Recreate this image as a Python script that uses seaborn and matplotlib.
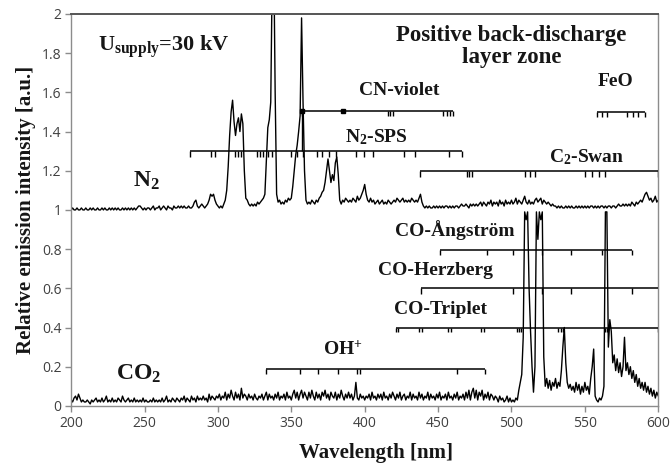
import numpy as np
import pandas as pd
import matplotlib
matplotlib.use("Agg")
import matplotlib.pyplot as plt
import seaborn as sns

# plot style
sns.set_style("ticks")
plt.rcParams["font.family"] = ["Open Sans", "DejaVu Sans"]
plt.rcParams["mathtext.fontset"] = "custom"
plt.rcParams["mathtext.rm"] = "Liberation Serif:bold"
plt.rcParams["mathtext.it"] = "Liberation Serif:bold"
plt.rcParams["mathtext.bf"] = "Liberation Serif:bold"

# wavelength grid of the spectra [nm]
wavelength = np.arange(200, 601, 1)

# N2 spectrum (relative, drawn shifted up by 1)
n2_intensity = [
    0.00, 0.01, 0.00, 0.00, 0.01, 0.00, 0.00, 0.01, 0.00, 0.00,
    0.01, 0.00, 0.00, 0.01, 0.00, 0.01, 0.00, 0.00, 0.01, 0.00,
    0.00, 0.01, 0.00, 0.01, 0.00, 0.00, 0.01, 0.00, 0.01, 0.00,
    0.01, 0.00, 0.01, 0.00, 0.00, 0.01, 0.00, 0.01, 0.00, 0.01,
    0.00, 0.01, 0.00, 0.01, 0.00, 0.01, 0.02, 0.02, 0.01, 0.00,
    0.01, 0.00, 0.01, 0.01, 0.00, 0.01, 0.02, 0.00, 0.01, 0.01,
    0.02, 0.00, 0.01, 0.02, 0.01, 0.00, 0.02, 0.01, 0.01, 0.00,
    0.02, 0.01, 0.01, 0.02, 0.01, 0.02, 0.01, 0.02, 0.01, 0.01,
    0.02, 0.01, 0.01, 0.02, 0.04, 0.05, 0.02, 0.01, 0.02, 0.03,
    0.02, 0.01, 0.02, 0.03, 0.05, 0.08, 0.07, 0.08, 0.05, 0.03,
    0.02, 0.01, 0.02, 0.01, 0.03, 0.05, 0.10, 0.22, 0.38, 0.50,
    0.56, 0.45, 0.38, 0.44, 0.47, 0.40, 0.49, 0.44, 0.20, 0.06,
    0.05, 0.03, 0.02, 0.03, 0.02, 0.03, 0.02, 0.04, 0.03, 0.04,
    0.05, 0.06, 0.08, 0.25, 0.42, 0.46, 0.55, 1.20, 1.35, 0.60,
    0.08, 0.04, 0.05, 0.03, 0.04, 0.03, 0.05, 0.04, 0.06, 0.05,
    0.06, 0.12, 0.20, 0.28, 0.33, 0.40, 0.48, 0.98, 0.55, 0.20,
    0.05, 0.03, 0.04, 0.03, 0.05, 0.04, 0.03, 0.05, 0.04, 0.06,
    0.07, 0.09, 0.10, 0.14, 0.20, 0.26, 0.20, 0.14, 0.18, 0.15,
    0.24, 0.27, 0.18, 0.05, 0.03, 0.05, 0.04, 0.06, 0.05, 0.04,
    0.05, 0.04, 0.06, 0.05, 0.04, 0.07, 0.05, 0.06, 0.08, 0.10,
    0.13, 0.08, 0.05, 0.04, 0.06, 0.04, 0.05, 0.03, 0.04, 0.05,
    0.03, 0.04, 0.05, 0.03, 0.04, 0.03, 0.05, 0.04, 0.03, 0.04,
    0.05, 0.04, 0.06, 0.05, 0.04, 0.05, 0.06, 0.04, 0.05, 0.04,
    0.05, 0.04, 0.06, 0.05, 0.04, 0.05, 0.04, 0.06, 0.08, 0.04,
    0.02, 0.01, 0.02, 0.01, 0.02, 0.01, 0.01, 0.02, 0.01, 0.02,
    0.01, 0.02, 0.01, 0.02, 0.01, 0.02, 0.02, 0.01, 0.02, 0.01,
    0.02, 0.01, 0.02, 0.02, 0.01, 0.02, 0.03, 0.02, 0.02, 0.03,
    0.02, 0.01, 0.03, 0.02, 0.03, 0.02, 0.03, 0.02, 0.03, 0.04,
    0.02, 0.04, 0.03, 0.02, 0.04, 0.03, 0.05, 0.02, 0.04, 0.03,
    0.04, 0.02, 0.05, 0.03, 0.04, 0.02, 0.05, 0.03, 0.04, 0.03,
    0.05, 0.03, 0.04, 0.06, 0.03, 0.05, 0.04, 0.03, 0.05, 0.07,
    0.04, 0.03, 0.05, 0.03, 0.04, 0.03, 0.05, 0.06, 0.04, 0.05,
    0.06, 0.03, 0.05, 0.04, 0.03, 0.04, 0.03, 0.02, 0.03, 0.02,
    0.02, 0.01, 0.02, 0.01, 0.02, 0.01, 0.01, 0.02, 0.01, 0.02,
    0.01, 0.02, 0.01, 0.01, 0.02, 0.01, 0.02, 0.01, 0.02, 0.01,
    0.02, 0.01, 0.02, 0.01, 0.02, 0.02, 0.01, 0.02, 0.01, 0.02,
    0.01, 0.02, 0.02, 0.01, 0.02, 0.01, 0.02, 0.02, 0.01, 0.02,
    0.02, 0.01, 0.02, 0.03, 0.02, 0.02, 0.03, 0.02, 0.03, 0.02,
    0.03, 0.02, 0.04, 0.03, 0.02, 0.04, 0.03, 0.04, 0.05, 0.04,
    0.06, 0.08, 0.09, 0.07, 0.05, 0.06, 0.04, 0.05, 0.07, 0.04,
    0.05,
]

# CO2 spectrum
co2_intensity = [
    0.03, 0.02, 0.04, 0.05, 0.03, 0.06, 0.04, 0.02, 0.03, 0.02,
    0.02, 0.03, 0.02, 0.01, 0.03, 0.02, 0.03, 0.04, 0.02, 0.03,
    0.02, 0.04, 0.02, 0.03, 0.05, 0.02, 0.03, 0.02, 0.04, 0.02,
    0.03, 0.02, 0.04, 0.03, 0.02, 0.05, 0.03, 0.02, 0.03, 0.04,
    0.02, 0.03, 0.02, 0.04, 0.02, 0.03, 0.02, 0.03, 0.02, 0.04,
    0.02, 0.03, 0.02, 0.02, 0.03, 0.02, 0.04, 0.02, 0.03, 0.02,
    0.03, 0.02, 0.04, 0.02, 0.03, 0.05, 0.02, 0.03, 0.02, 0.04,
    0.03, 0.02, 0.04, 0.03, 0.02, 0.04, 0.03, 0.05, 0.02, 0.04,
    0.03, 0.02, 0.05, 0.03, 0.04, 0.02, 0.05, 0.03, 0.04, 0.03,
    0.05, 0.03, 0.04, 0.02, 0.06, 0.03, 0.05, 0.04, 0.03, 0.05,
    0.04, 0.06, 0.03, 0.05, 0.04, 0.07, 0.03, 0.06, 0.04, 0.08,
    0.05, 0.03, 0.07, 0.04, 0.06, 0.03, 0.09, 0.04, 0.06, 0.05,
    0.03, 0.06, 0.04, 0.05, 0.03, 0.06, 0.04, 0.03, 0.05, 0.04,
    0.06, 0.03, 0.05, 0.07, 0.03, 0.06, 0.04, 0.05, 0.03, 0.06,
    0.04, 0.07, 0.03, 0.05, 0.04, 0.06, 0.03, 0.07, 0.04, 0.05,
    0.03, 0.06, 0.08, 0.04, 0.07, 0.03, 0.06, 0.08, 0.04, 0.07,
    0.05, 0.03, 0.07, 0.04, 0.08, 0.05, 0.03, 0.07, 0.04, 0.06,
    0.03, 0.07, 0.05, 0.08, 0.04, 0.06, 0.03, 0.07, 0.05, 0.04,
    0.07, 0.03, 0.06, 0.04, 0.08, 0.05, 0.03, 0.06, 0.04, 0.07,
    0.04, 0.06, 0.03, 0.05, 0.12, 0.04, 0.03, 0.06, 0.04, 0.05,
    0.03, 0.05, 0.04, 0.06, 0.03, 0.07, 0.04, 0.05, 0.03, 0.06,
    0.04, 0.06, 0.03, 0.07, 0.04, 0.05, 0.03, 0.06, 0.04, 0.07,
    0.05, 0.03, 0.06, 0.04, 0.07, 0.03, 0.05, 0.06, 0.03, 0.05,
    0.04, 0.07, 0.03, 0.06, 0.04, 0.05, 0.03, 0.07, 0.04, 0.06,
    0.03, 0.05, 0.04, 0.07, 0.03, 0.06, 0.04, 0.05, 0.03, 0.06,
    0.04, 0.07, 0.03, 0.05, 0.04, 0.06, 0.03, 0.07, 0.04, 0.05,
    0.03, 0.06, 0.04, 0.07, 0.03, 0.05, 0.04, 0.06, 0.03, 0.07,
    0.04, 0.08, 0.03, 0.07, 0.09, 0.04, 0.08, 0.03, 0.07, 0.05,
    0.08, 0.03, 0.06, 0.04, 0.07, 0.03, 0.06, 0.05, 0.03, 0.05,
    0.04, 0.02, 0.05, 0.03, 0.04, 0.02, 0.03, 0.05, 0.02, 0.04,
    0.02, 0.03, 0.02, 0.04, 0.03, 0.08, 0.12, 0.16, 0.35, 0.99,
    0.95, 0.99, 0.60, 0.38, 0.20, 0.07, 0.20, 0.99, 0.85, 0.99,
    0.95, 0.99, 0.25, 0.10, 0.14, 0.09, 0.13, 0.08, 0.12, 0.10,
    0.14, 0.09, 0.12, 0.10, 0.18, 0.30, 0.40, 0.22, 0.12, 0.09,
    0.11, 0.08, 0.10, 0.07, 0.12, 0.08, 0.11, 0.06, 0.10, 0.07,
    0.12, 0.08, 0.10, 0.06, 0.14, 0.20, 0.29, 0.05, 0.03, 0.02,
    0.04, 0.03, 0.05, 0.10, 0.99, 0.99, 0.30, 0.44, 0.38, 0.22,
    0.26, 0.18, 0.24, 0.17, 0.22, 0.15, 0.20, 0.35, 0.18, 0.22,
    0.16, 0.20, 0.14, 0.18, 0.12, 0.16, 0.10, 0.14, 0.09, 0.12,
    0.08, 0.12, 0.07, 0.10, 0.06, 0.09, 0.05, 0.08, 0.04, 0.07,
    0.05,
]
N2_OFFSET = 1.0

# band systems: [start, end] and band heads [nm]
cn_span = [357.5, 460.3]
cn_ticks = [357.5, 416.0, 417.5, 419.0, 453.5, 456.0, 458.2, 460.3]
cn_marks = [357.5, 385.3]
n2sps_span = [281.0, 466.5]
n2sps_ticks = [281.0, 295.3, 297.7, 311.7, 313.6, 315.9, 326.8, 328.5, 330.9,
               333.9, 337.1, 350.0, 353.7, 357.7, 367.2, 371.1, 375.5, 380.5,
               394.3, 399.8, 405.9, 426.9, 434.4, 457.4, 466.5]
c2_span = [437.8, 600.0]
c2_ticks = [437.8, 469.6, 471.2, 473.0, 509.4, 512.8, 516.2, 550.3, 554.8,
            559.3, 563.9, 600.0]
feo_span = [558.4, 591.1]
feo_ticks = [558.4, 561.8, 565.2, 579.0, 583.0, 586.4, 591.1]
ang_span = [451.1, 582.3]
ang_ticks = [451.1, 483.5, 501.0, 521.0, 540.5, 561.5, 582.3]
herz_span = [438.5, 600.0]
herz_ticks = [438.5, 501.0, 521.0, 540.5, 582.3]
trip_span = [421.0, 600.0]
trip_ticks = [421.0, 422.8, 436.8, 439.0, 456.5, 458.5, 479.5, 481.5, 503.5,
              505.0, 506.5, 531.5, 533.5, 535.0, 563.5, 565.0, 599.5]
ohp_span = [333.0, 482.0]
ohp_ticks = [333.0, 356.0, 368.0, 382.0, 395.0, 397.0, 463.0, 482.0]

df = pd.DataFrame({
    "wavelength": wavelength,
    "N2": np.array(n2_intensity) + N2_OFFSET,
    "CO2": co2_intensity,
})

fig, ax = plt.subplots(figsize=(6.71, 4.66), dpi=100)
fig.subplots_adjust(left=0.106, right=0.981, bottom=0.129, top=0.970)

sns.lineplot(data=df, x="wavelength", y="N2", color="black", lw=1.0, ax=ax)
sns.lineplot(data=df, x="wavelength", y="CO2", color="black", lw=1.0, ax=ax)


def band(span, ticks, y, tick_len=0.028):
    ax.hlines(y, span[0], span[1], color="black", lw=1.1, zorder=3)
    ax.vlines(ticks, y - tick_len, y, color="black", lw=1.0, zorder=3)


band(cn_span, cn_ticks, 1.505)
ax.vlines(cn_span[0], 1.30, 1.505, color="black", lw=1.0, zorder=3)
ax.plot(cn_marks, [1.505] * len(cn_marks), "s", color="black", ms=3.5, zorder=4)
band(n2sps_span, n2sps_ticks, 1.30)
band(c2_span, c2_ticks, 1.198)
band(feo_span, feo_ticks, 1.50)
band(ang_span, ang_ticks, 0.797)
band(herz_span, herz_ticks, 0.60)
band(trip_span, trip_ticks, 0.40, tick_len=0.022)
band(ohp_span, ohp_ticks, 0.19)

txt = dict(family="Liberation Serif", fontweight="bold", color="#161616",
           ha="center", va="center")
ax.text(263, 1.835, r"U$_{\mathrm{supply}}$=30 kV", fontsize=16, **txt)
ax.text(500, 1.835, "Positive back-discharge\nlayer zone", fontsize=16.5,
        linespacing=1.05, **txt)
ax.text(423.5, 1.612, "CN-violet", fontsize=14, **txt)
ax.text(408, 1.37, r"N$_2$-SPS", fontsize=14, **txt)
ax.text(570.7, 1.655, "FeO", fontsize=14, **txt)
ax.text(551, 1.27, r"C$_2$-Swan", fontsize=14, **txt)
ax.text(251, 1.15, r"N$_2$", fontsize=17, **txt)
ax.text(246, 0.165, r"CO$_2$", fontsize=17, **txt)
ax.text(461.5, 0.895, "CO-Ångström", fontsize=14, **txt)
ax.text(448.4, 0.69, "CO-Herzberg", fontsize=14, **txt)
ax.text(451.5, 0.49, "CO-Triplet", fontsize=14, **txt)
ax.text(385, 0.29, r"OH$^{+}$", fontsize=14, **txt)

ax.set_xlim(200, 600)
ax.set_ylim(0, 2)
ax.set_xticks(np.arange(200, 601, 50))
ax.set_yticks(np.arange(0, 2.01, 0.2))
ax.set_yticklabels([f"{v:g}" for v in np.round(np.arange(0, 2.01, 0.2), 1)])
ax.tick_params(axis="both", direction="out", length=4, width=1,
               color="#8c8c8c", labelsize=10, labelcolor="#404040", pad=3)

ax.set_xlabel("Wavelength [nm]", family="Liberation Serif", fontweight="bold",
              fontsize=15, color="#161616", labelpad=6)
ax.xaxis.set_label_coords(0.52, -0.095)
ax.set_ylabel("Relative emission intensity [a.u.]", family="Liberation Serif",
              fontweight="bold", fontsize=15, color="#161616", labelpad=4)

for side in ["left", "bottom", "right"]:
    ax.spines[side].set_color("#8c8c8c")
    ax.spines[side].set_linewidth(1.0)
ax.spines["top"].set_color("#555555")
ax.spines["top"].set_linewidth(1.4)
ax.spines["right"].set_visible(True)
ax.spines["top"].set_visible(True)

fig.savefig("out.png", dpi=100)
